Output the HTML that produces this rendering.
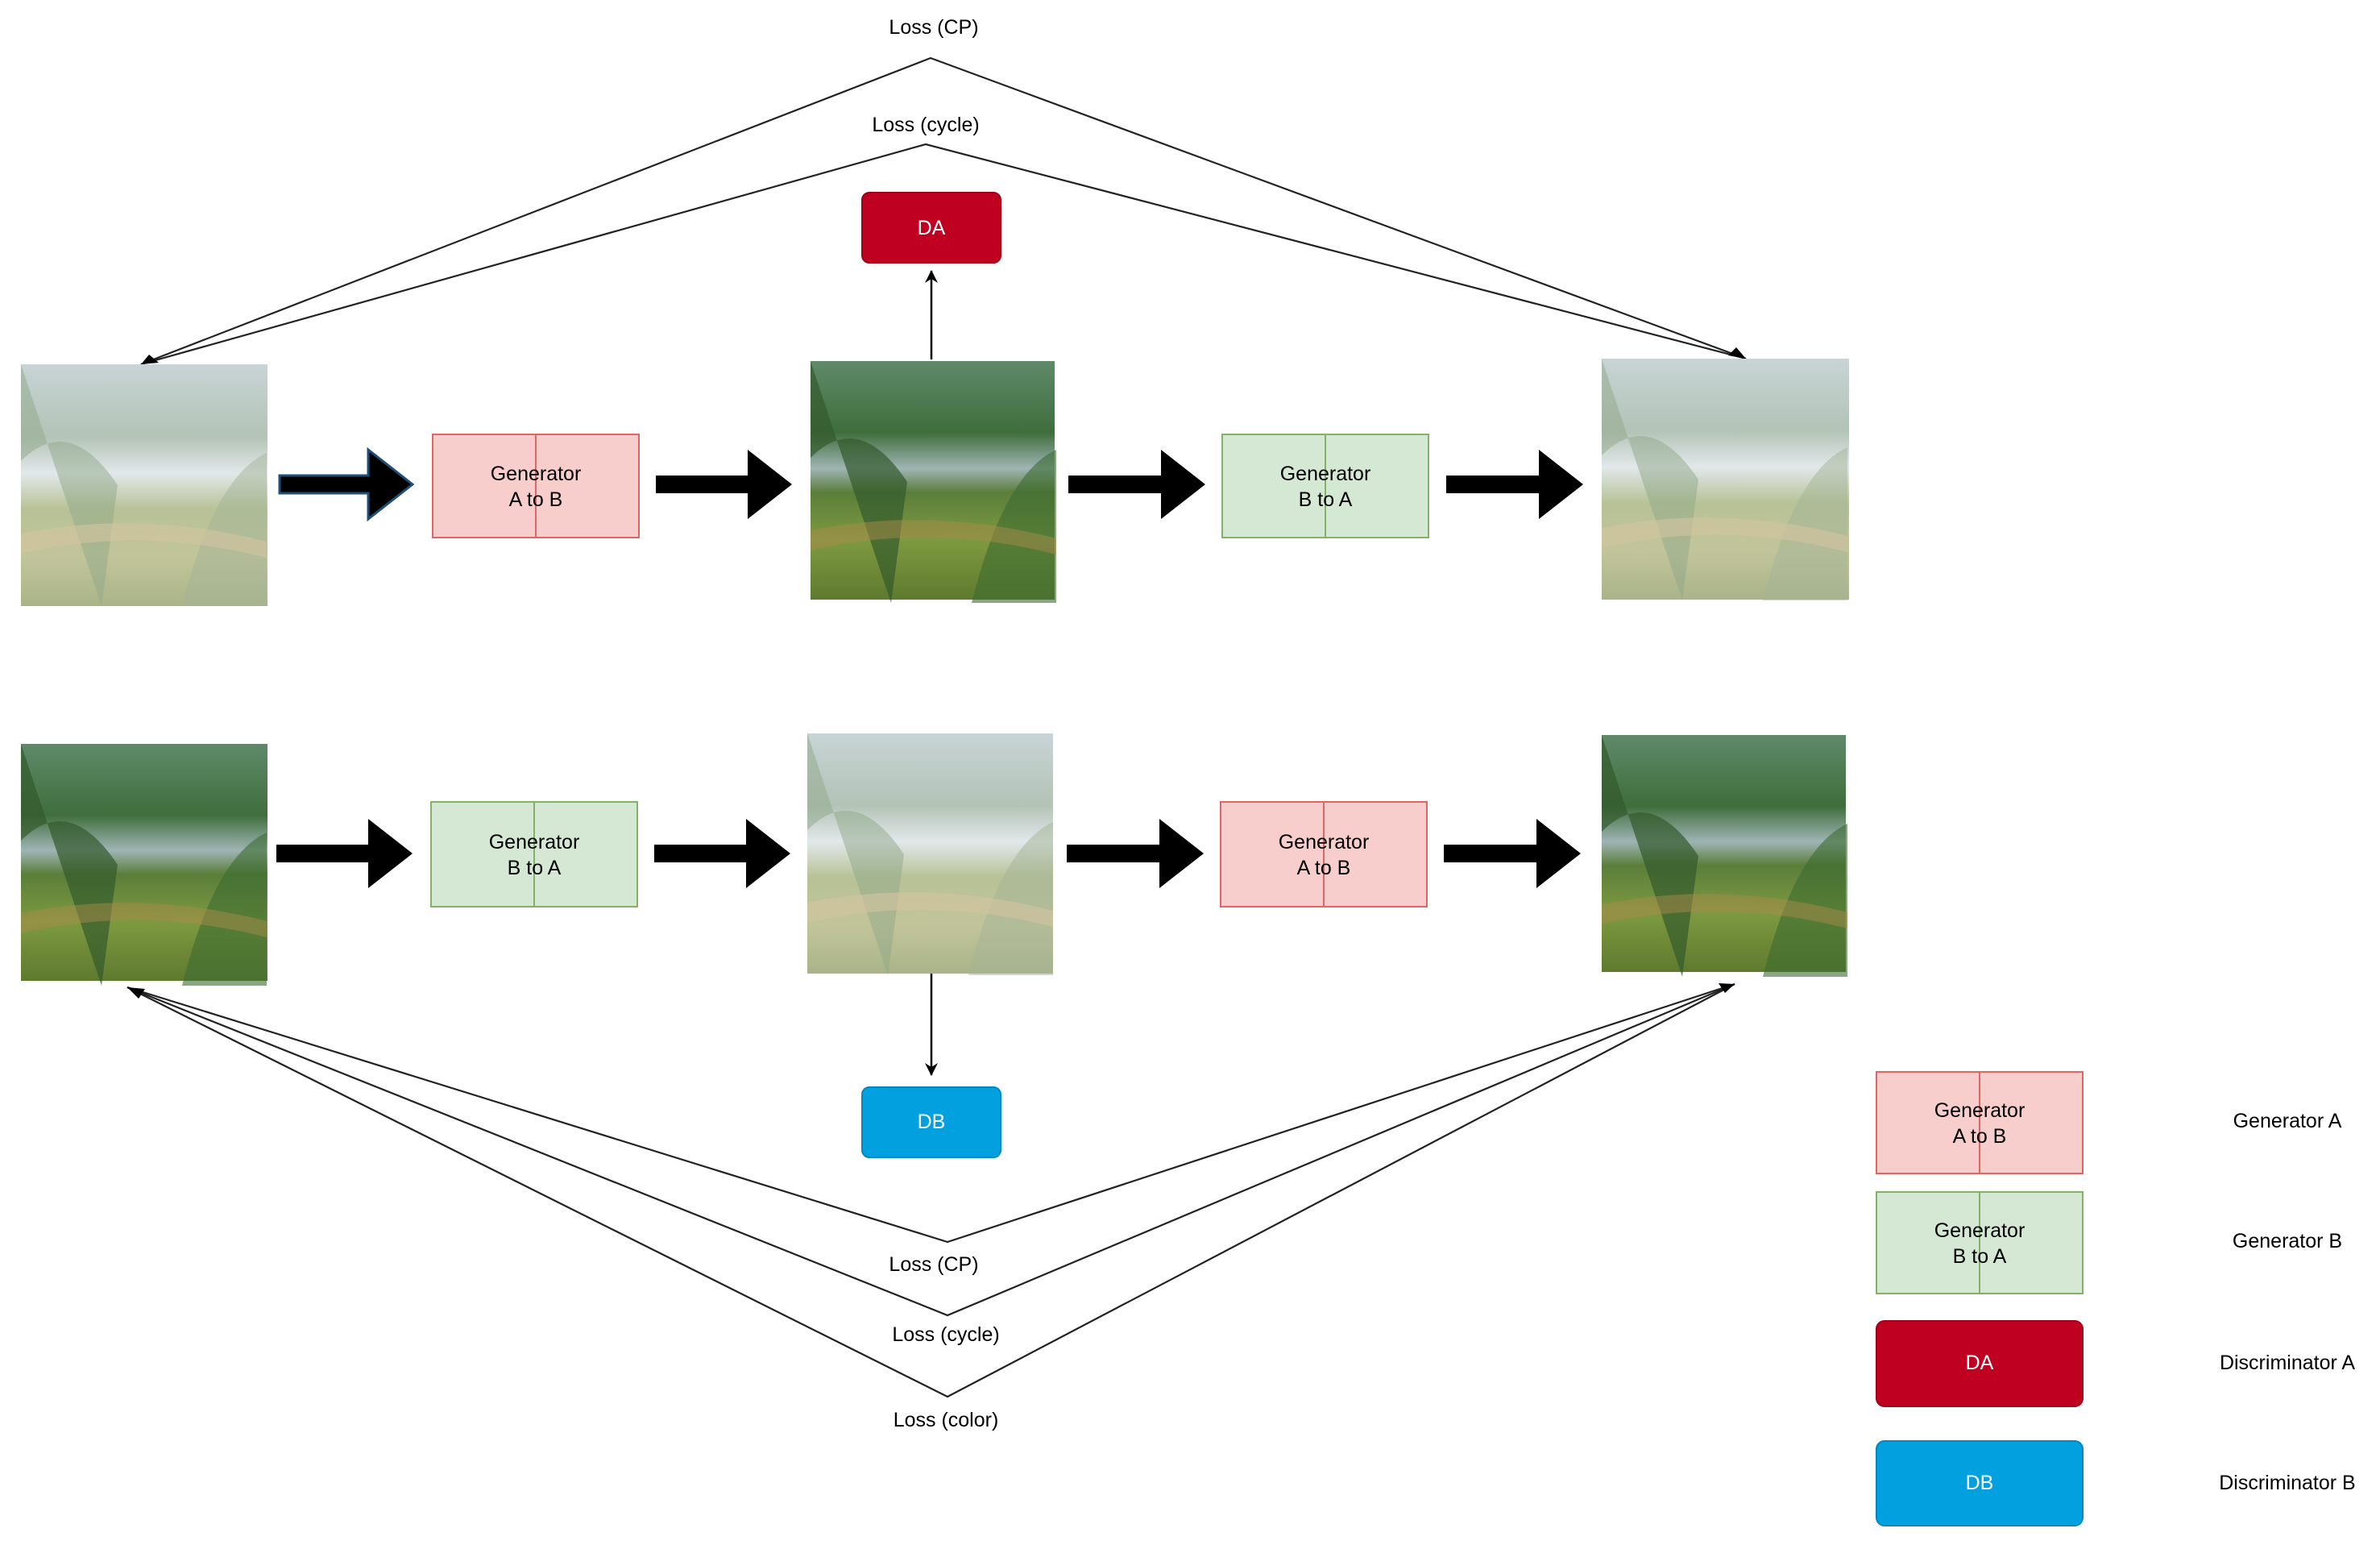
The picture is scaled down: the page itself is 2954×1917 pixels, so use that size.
<!DOCTYPE html>
<html><head><meta charset="utf-8"><style>
html,body{margin:0;padding:0;background:#fff}
svg{display:block}
text{font-family:"Liberation Sans",sans-serif}
</style></head><body>
<svg width="2954" height="1917" viewBox="0 0 2954 1917" xmlns="http://www.w3.org/2000/svg">
<defs>
<linearGradient id="clear" x1="0" y1="0" x2="0" y2="1">
<stop offset="0" stop-color="#5f8a6a"/><stop offset="0.3" stop-color="#3f6e3c"/>
<stop offset="0.45" stop-color="#9fb4b4"/><stop offset="0.55" stop-color="#5a7e3a"/>
<stop offset="0.75" stop-color="#7e9a40"/><stop offset="1" stop-color="#5e7a2e"/>
</linearGradient>
<linearGradient id="fog" x1="0" y1="0" x2="0" y2="1">
<stop offset="0" stop-color="#c8d4d6"/><stop offset="0.3" stop-color="#b3c3b6"/>
<stop offset="0.45" stop-color="#e2e8ea"/><stop offset="0.6" stop-color="#b7c296"/>
<stop offset="0.8" stop-color="#c2c49a"/><stop offset="1" stop-color="#aab488"/>
</linearGradient>
<marker id="ah2" markerWidth="16" markerHeight="16" refX="15" refY="8" orient="auto" markerUnits="userSpaceOnUse" viewBox="0 0 16 16">
<path d="M0,0 L16,8 L0,16 L5,8 z" fill="#000"/></marker>
<g id="hillC">
<path d="M0,0 L0,300 L0,120 Q60,60 120,150 L100,300 Z" fill="#335a2c" opacity="0.7"/>
<path d="M200,300 Q240,140 305,110 L305,300 Z" fill="#3c6a30" opacity="0.6"/>
<path d="M0,210 Q150,180 305,220 L305,240 Q150,200 0,235 Z" fill="#a88a4a" opacity="0.5"/>
</g>
<g id="hillF">
<path d="M0,0 L0,300 L0,120 Q60,60 120,150 L100,300 Z" fill="#8fa88a" opacity="0.5"/>
<path d="M200,300 Q240,140 305,110 L305,300 Z" fill="#a4b496" opacity="0.5"/>
<path d="M0,210 Q150,180 305,220 L305,240 Q150,200 0,235 Z" fill="#d4c4a0" opacity="0.6"/>
</g>
</defs>

<g stroke="#222" stroke-width="2.2" fill="none">
<polyline points="175,452 1155,72 2167,445" />
<polyline points="175,452 1149,179 2167,445" />
</g>
<path d="M175,452 l22,-2 l-12,-10 z" fill="#000"/>
<path d="M2167,445 l-22,-4 l10,-10 z" fill="#000"/>
<text x="1159" y="42" font-size="25" text-anchor="middle">Loss  (CP)</text>
<rect x="1060" y="140" width="190" height="34" fill="#fff"/>
<text x="1149" y="163" font-size="25" text-anchor="middle">Loss  (cycle)</text>

<rect x="1070" y="239" width="172" height="87" rx="9" fill="#c00020" stroke="#a00018" stroke-width="2"/>
<text x="1156" y="291" font-size="25" fill="#fff" text-anchor="middle">DA</text>
<line x1="1156" y1="446" x2="1156" y2="336" stroke="#000" stroke-width="2.5" marker-end="url(#ah2)"/>

<rect x="26" y="452" width="306" height="300" fill="url(#fog)"/>
<use href="#hillF" transform="translate(26,452)"/>
<rect x="1006" y="448" width="303" height="296" fill="url(#clear)"/>
<use href="#hillC" transform="translate(1006,448)"/>
<rect x="1988" y="445" width="307" height="299" fill="url(#fog)"/>
<use href="#hillF" transform="translate(1988,445)"/>

<rect x="537" y="539" width="256" height="128" fill="#f8cecc" stroke="#e06666" stroke-width="2"/>
<line x1="665" y1="539" x2="665" y2="667" stroke="#e06666" stroke-width="2"/>
<text x="665" y="596" font-size="25" text-anchor="middle">Generator</text>
<text x="665" y="628" font-size="25" text-anchor="middle">A to B</text>
<rect x="1517" y="539" width="256" height="128" fill="#d5e8d4" stroke="#82b366" stroke-width="2"/>
<line x1="1645" y1="539" x2="1645" y2="667" stroke="#82b366" stroke-width="2"/>
<text x="1645" y="596" font-size="25" text-anchor="middle">Generator</text>
<text x="1645" y="628" font-size="25" text-anchor="middle">B to A</text>

<g fill="#000">
<path d="M347,590 h110 v-32 l55,43 l-55,43 v-32 h-110 z" stroke="#1f4e79" stroke-width="3"/>
<path d="M814,590 h114 v-32 l55,43 l-55,43 v-32 h-114 z"/>
<path d="M1326,590 h115 v-32 l55,43 l-55,43 v-32 h-115 z"/>
<path d="M1795,590 h115 v-32 l55,43 l-55,43 v-32 h-115 z"/>
<path d="M343,1048 h114 v-32 l55,43 l-55,43 v-32 h-114 z"/>
<path d="M812,1048 h114 v-32 l55,43 l-55,43 v-32 h-114 z"/>
<path d="M1324,1048 h115 v-32 l55,43 l-55,43 v-32 h-115 z"/>
<path d="M1792,1048 h115 v-32 l55,43 l-55,43 v-32 h-115 z"/>
</g>

<rect x="26" y="923" width="306" height="294" fill="url(#clear)"/>
<use href="#hillC" transform="translate(26,923)"/>
<rect x="1002" y="910" width="305" height="298" fill="url(#fog)"/>
<use href="#hillF" transform="translate(1002,910)"/>
<rect x="1988" y="912" width="303" height="294" fill="url(#clear)"/>
<use href="#hillC" transform="translate(1988,912)"/>

<rect x="535" y="995" width="256" height="130" fill="#d5e8d4" stroke="#82b366" stroke-width="2"/>
<line x1="663" y1="995" x2="663" y2="1125" stroke="#82b366" stroke-width="2"/>
<text x="663" y="1053" font-size="25" text-anchor="middle">Generator</text>
<text x="663" y="1085" font-size="25" text-anchor="middle">B to A</text>
<rect x="1515" y="995" width="256" height="130" fill="#f8cecc" stroke="#e06666" stroke-width="2"/>
<line x1="1643" y1="995" x2="1643" y2="1125" stroke="#e06666" stroke-width="2"/>
<text x="1643" y="1053" font-size="25" text-anchor="middle">Generator</text>
<text x="1643" y="1085" font-size="25" text-anchor="middle">A to B</text>

<line x1="1156" y1="1208" x2="1156" y2="1334" stroke="#000" stroke-width="2.5" marker-end="url(#ah2)"/>
<rect x="1070" y="1349" width="172" height="87" rx="9" fill="#03a0e0" stroke="#0088c0" stroke-width="2"/>
<text x="1156" y="1400" font-size="25" fill="#fff" text-anchor="middle">DB</text>

<g stroke="#222" stroke-width="2.2" fill="none">
<polyline points="158,1225 1176,1541 2153,1221"/>
<polyline points="158,1225 1176,1632 2153,1221"/>
<polyline points="158,1225 1176,1733 2153,1221"/>
</g>
<path d="M158,1225 l22,2 l-8,12 z" fill="#000"/>
<path d="M2153,1221 l-20,-1 l8,12 z" fill="#000"/>
<rect x="1080" y="1553" width="170" height="34" fill="#fff"/>
<text x="1159" y="1577" font-size="25" text-anchor="middle">Loss  (CP)</text>
<rect x="1080" y="1640" width="190" height="34" fill="#fff"/>
<text x="1174" y="1664" font-size="25" text-anchor="middle">Loss  (cycle)</text>
<text x="1174" y="1770" font-size="25" text-anchor="middle">Loss  (color)</text>

<rect x="2329" y="1330" width="256" height="126" fill="#f8cecc" stroke="#e06666" stroke-width="2"/>
<line x1="2457" y1="1330" x2="2457" y2="1456" stroke="#e06666" stroke-width="2"/>
<text x="2457" y="1386" font-size="25" text-anchor="middle">Generator</text>
<text x="2457" y="1418" font-size="25" text-anchor="middle">A to B</text>
<rect x="2329" y="1479" width="256" height="126" fill="#d5e8d4" stroke="#82b366" stroke-width="2"/>
<line x1="2457" y1="1479" x2="2457" y2="1605" stroke="#82b366" stroke-width="2"/>
<text x="2457" y="1535" font-size="25" text-anchor="middle">Generator</text>
<text x="2457" y="1567" font-size="25" text-anchor="middle">B to A</text>
<rect x="2329" y="1639" width="256" height="106" rx="10" fill="#c00020" stroke="#a00018" stroke-width="2"/>
<text x="2457" y="1699" font-size="25" fill="#fff" text-anchor="middle">DA</text>
<rect x="2329" y="1788" width="256" height="105" rx="10" fill="#03a0e0" stroke="#0088c0" stroke-width="2"/>
<text x="2457" y="1848" font-size="25" fill="#fff" text-anchor="middle">DB</text>
<g font-size="25" text-anchor="middle">
<text x="2839" y="1399">Generator A</text>
<text x="2839" y="1548">Generator B</text>
<text x="2839" y="1699">Discriminator A</text>
<text x="2839" y="1848">Discriminator B</text>
</g>
</svg>
</body></html>
